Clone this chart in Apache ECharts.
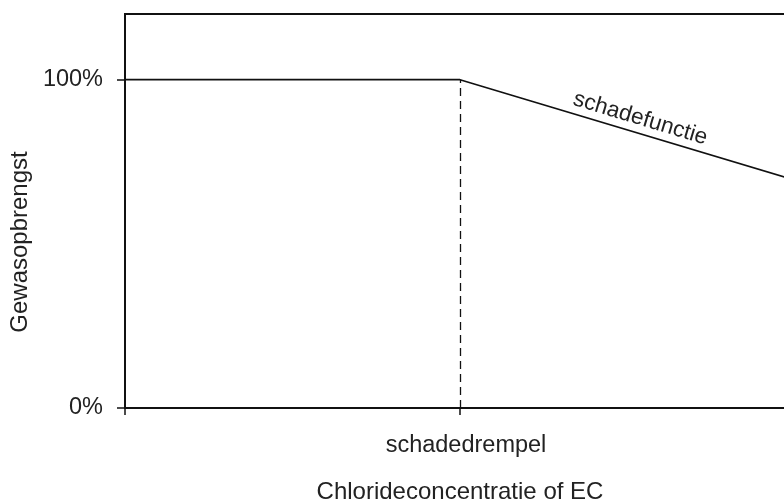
<!DOCTYPE html>
<html>
<head>
<meta charset="utf-8">
<script src="https://cdn.jsdelivr.net/npm/echarts@6/dist/echarts.min.js"></script>
<style>html,body{margin:0;padding:0;background:#fff}#c{width:784px;height:503px}</style>
</head>
<body>
<div id="c"></div>
<script>
// Data
var xValues = [0, 5, 10];              // concentration (arbitrary units)
var yieldValues = [100, 100, 69.4];    // crop yield %
var thresholdX = 5;
var yTickValues = [0, 100];
var yTickLabels = ['0%', '100%'];
var xTickValues = [0, 5];
var xTickLabels = ['', 'schadedrempel'];
var xAxisName = 'Chlorideconcentratie of EC';
var yAxisName = 'Gewasopbrengst';
var lineLabel = 'schadefunctie';

var FONT = 'Liberation Sans';
var FS = 23.5;
var TXT = '#222';
var chart = echarts.init(document.getElementById('c'), null, {renderer: 'canvas'});
var lineData = xValues.map(function (x, i) { return [x, yieldValues[i]]; });

chart.setOption({
  animation: false,
  grid: {left: 125, top: 14, width: 670, bottom: 95, show: true, borderColor: '#111', borderWidth: 2,
         containLabel: false, outerBoundsMode: 'none'},
  xAxis: {
    type: 'value', min: 0, max: 10, interval: 5,
    axisLine: {show: true, lineStyle: {color: '#111', width: 2}},
    axisTick: {show: true, inside: false, length: 7, lineStyle: {color: '#111', width: 1.5}, customValues: xTickValues},
    axisLabel: {show: true, margin: 26, color: TXT, fontFamily: FONT, fontSize: FS,
      customValues: xTickValues, padding: [0, 0, 0, 12],
      formatter: function (v) { var i = xTickValues.indexOf(v); return i >= 0 ? xTickLabels[i] : ''; }},
    splitLine: {show: false},
    name: xAxisName, nameLocation: 'middle', nameGap: 72,
    nameTextStyle: {color: TXT, fontFamily: FONT, fontSize: 24}
  },
  yAxis: {
    type: 'value', min: 0, max: 120, interval: 100,
    axisLine: {show: true, lineStyle: {color: '#111', width: 2}},
    axisTick: {show: true, inside: false, length: 8, lineStyle: {color: '#111', width: 1.5}, customValues: yTickValues},
    axisLabel: {show: true, margin: 22, color: TXT, fontFamily: FONT, fontSize: FS,
      customValues: yTickValues,
      formatter: function (v) { var i = yTickValues.indexOf(v); return i >= 0 ? yTickLabels[i] : ''; }},
    splitLine: {show: false},
    name: yAxisName, nameLocation: 'middle', nameGap: 92,
    nameTextStyle: {color: TXT, fontFamily: FONT, fontSize: 24, padding: [0, 62, 0, 0]}
  },
  series: [{
    type: 'line',
    data: lineData,
    symbol: 'none',
    lineStyle: {color: '#111', width: 1.6},
    z: 5,
    markLine: {
      silent: true,
      symbol: 'none',
      data: [
        [{coord: [thresholdX, 0], lineStyle: {color: '#111', width: 1.3, type: [8, 5]}, label: {show: false}},
         {coord: [thresholdX, yieldValues[1]]}],
        [{coord: lineData[1], lineStyle: {color: 'rgba(0,0,0,0)', width: 1}, label: {show: true, formatter: lineLabel, position: 'insideMiddleTop',
            color: TXT, fontFamily: FONT, fontSize: 22.5, padding: [0, 0, 0, 18], distance: 3}},
         {coord: lineData[2]}]
      ]
    }
  }]
});
</script>
</body>
</html>
